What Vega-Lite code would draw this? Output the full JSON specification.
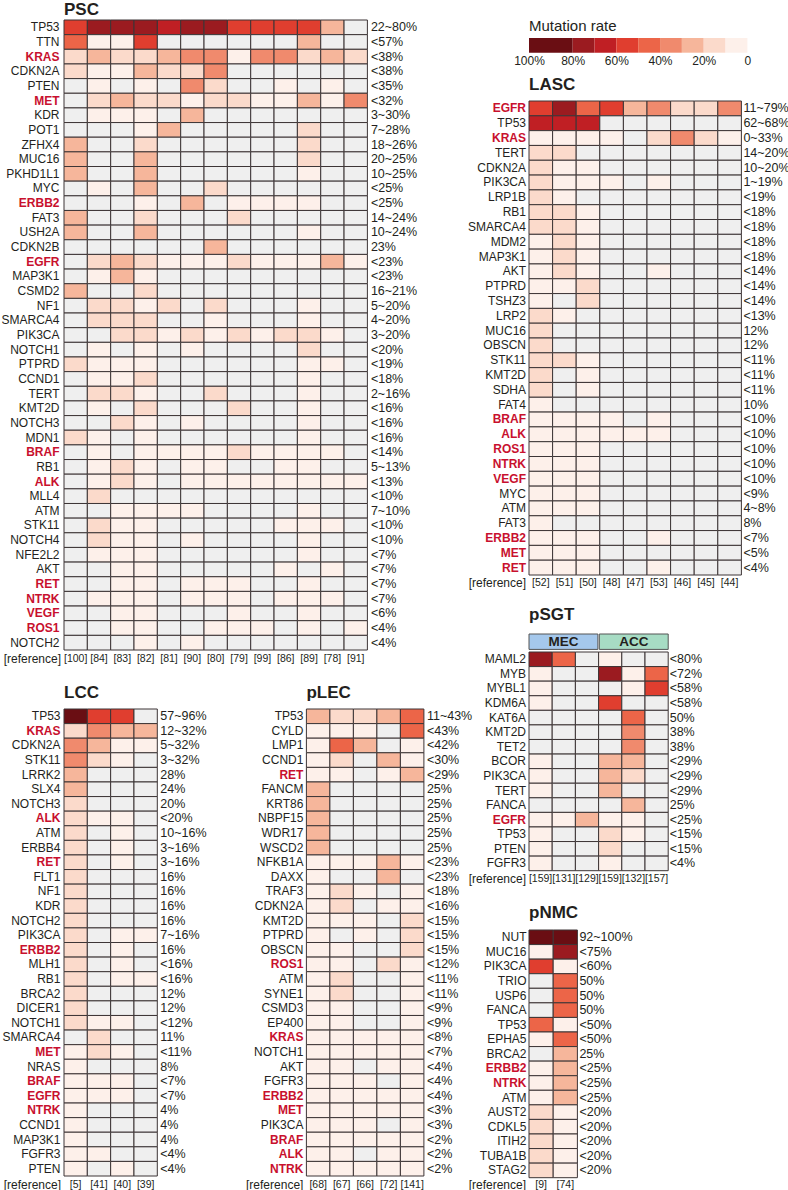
{
"$schema":"https://vega.github.io/schema/vega-lite/v6.json",
"padding":{"left":0,"top":0,"right":0,"bottom":0},
"background":"white",
"config":{"view":{"stroke":null},"font":"Liberation Sans","text":{"font":"Liberation Sans","color":"#231f20"},"title":{"font":"Liberation Sans","fontSize":17,"fontWeight":"bold","anchor":"start","color":"#231f20","frame":"group","baseline":"alphabetic"},"axis":{"labelFont":"Liberation Sans"}},
"datasets":{
"leg":[{"lo":80,"hi":100,"v":9},{"lo":70,"hi":80,"v":8},{"lo":60,"hi":70,"v":7},{"lo":50,"hi":60,"v":6},{"lo":40,"hi":50,"v":5},{"lo":30,"hi":40,"v":4},{"lo":20,"hi":30,"v":3},{"lo":10,"hi":20,"v":2},{"lo":0,"hi":10,"v":1}],
"psc_c":[{"c":1,"ref":"[100]"},{"c":2,"ref":"[84]"},{"c":3,"ref":"[83]"},{"c":4,"ref":"[82]"},{"c":5,"ref":"[81]"},{"c":6,"ref":"[90]"},{"c":7,"ref":"[80]"},{"c":8,"ref":"[79]"},{"c":9,"ref":"[99]"},{"c":10,"ref":"[86]"},{"c":11,"ref":"[89]"},{"c":12,"ref":"[78]"},{"c":13,"ref":"[91]"}],
"psc_g":[{"g":"TP53","r":"22~80%"},{"g":"TTN","r":"<57%"},{"g":"KRAS","r":"<38%"},{"g":"CDKN2A","r":"<38%"},{"g":"PTEN","r":"<35%"},{"g":"MET","r":"<32%"},{"g":"KDR","r":"3~30%"},{"g":"POT1","r":"7~28%"},{"g":"ZFHX4","r":"18~26%"},{"g":"MUC16","r":"20~25%"},{"g":"PKHD1L1","r":"10~25%"},{"g":"MYC","r":"<25%"},{"g":"ERBB2","r":"<25%"},{"g":"FAT3","r":"14~24%"},{"g":"USH2A","r":"10~24%"},{"g":"CDKN2B","r":"23%"},{"g":"EGFR","r":"<23%"},{"g":"MAP3K1","r":"<23%"},{"g":"CSMD2","r":"16~21%"},{"g":"NF1","r":"5~20%"},{"g":"SMARCA4","r":"4~20%"},{"g":"PIK3CA","r":"3~20%"},{"g":"NOTCH1","r":"<20%"},{"g":"PTPRD","r":"<19%"},{"g":"CCND1","r":"<18%"},{"g":"TERT","r":"2~16%"},{"g":"KMT2D","r":"<16%"},{"g":"NOTCH3","r":"<16%"},{"g":"MDN1","r":"<16%"},{"g":"BRAF","r":"<14%"},{"g":"RB1","r":"5~13%"},{"g":"ALK","r":"<13%"},{"g":"MLL4","r":"<10%"},{"g":"ATM","r":"7~10%"},{"g":"STK11","r":"<10%"},{"g":"NOTCH4","r":"<10%"},{"g":"NFE2L2","r":"<7%"},{"g":"AKT","r":"<7%"},{"g":"RET","r":"<7%"},{"g":"NTRK","r":"<7%"},{"g":"VEGF","r":"<6%"},{"g":"ROS1","r":"<4%"},{"g":"NOTCH2","r":"<4%"}],
"psc":[
{"g":"TP53","c":1,"v":6},{"g":"TP53","c":2,"v":8},{"g":"TP53","c":3,"v":8},{"g":"TP53","c":4,"v":8},{"g":"TP53","c":5,"v":7},{"g":"TP53","c":6,"v":8},{"g":"TP53","c":7,"v":8},{"g":"TP53","c":8,"v":6},{"g":"TP53","c":9,"v":6},{"g":"TP53","c":10,"v":6},{"g":"TP53","c":11,"v":6},{"g":"TP53","c":12,"v":3},{"g":"TP53","c":13,"v":0},
{"g":"TTN","c":1,"v":5},{"g":"TTN","c":2,"v":1},{"g":"TTN","c":3,"v":1},{"g":"TTN","c":4,"v":6},{"g":"TTN","c":5,"v":0},{"g":"TTN","c":6,"v":0},{"g":"TTN","c":7,"v":0},{"g":"TTN","c":8,"v":0},{"g":"TTN","c":9,"v":0},{"g":"TTN","c":10,"v":0},{"g":"TTN","c":11,"v":3},{"g":"TTN","c":12,"v":0},{"g":"TTN","c":13,"v":0},
{"g":"KRAS","c":1,"v":2},{"g":"KRAS","c":2,"v":3},{"g":"KRAS","c":3,"v":2},{"g":"KRAS","c":4,"v":2},{"g":"KRAS","c":5,"v":3},{"g":"KRAS","c":6,"v":4},{"g":"KRAS","c":7,"v":4},{"g":"KRAS","c":8,"v":1},{"g":"KRAS","c":9,"v":4},{"g":"KRAS","c":10,"v":4},{"g":"KRAS","c":11,"v":2},{"g":"KRAS","c":12,"v":3},{"g":"KRAS","c":13,"v":2},
{"g":"CDKN2A","c":1,"v":2},{"g":"CDKN2A","c":2,"v":1},{"g":"CDKN2A","c":3,"v":1},{"g":"CDKN2A","c":4,"v":3},{"g":"CDKN2A","c":5,"v":2},{"g":"CDKN2A","c":6,"v":2},{"g":"CDKN2A","c":7,"v":4},{"g":"CDKN2A","c":8,"v":0},{"g":"CDKN2A","c":9,"v":0},{"g":"CDKN2A","c":10,"v":0},{"g":"CDKN2A","c":11,"v":0},{"g":"CDKN2A","c":12,"v":0},{"g":"CDKN2A","c":13,"v":0},
{"g":"PTEN","c":1,"v":0},{"g":"PTEN","c":2,"v":1},{"g":"PTEN","c":3,"v":0},{"g":"PTEN","c":4,"v":1},{"g":"PTEN","c":5,"v":0},{"g":"PTEN","c":6,"v":4},{"g":"PTEN","c":7,"v":2},{"g":"PTEN","c":8,"v":0},{"g":"PTEN","c":9,"v":0},{"g":"PTEN","c":10,"v":1},{"g":"PTEN","c":11,"v":0},{"g":"PTEN","c":12,"v":1},{"g":"PTEN","c":13,"v":0},
{"g":"MET","c":1,"v":0},{"g":"MET","c":2,"v":2},{"g":"MET","c":3,"v":3},{"g":"MET","c":4,"v":2},{"g":"MET","c":5,"v":2},{"g":"MET","c":6,"v":1},{"g":"MET","c":7,"v":2},{"g":"MET","c":8,"v":2},{"g":"MET","c":9,"v":1},{"g":"MET","c":10,"v":1},{"g":"MET","c":11,"v":3},{"g":"MET","c":12,"v":1},{"g":"MET","c":13,"v":4},
{"g":"KDR","c":1,"v":0},{"g":"KDR","c":2,"v":1},{"g":"KDR","c":3,"v":1},{"g":"KDR","c":4,"v":1},{"g":"KDR","c":5,"v":0},{"g":"KDR","c":6,"v":3},{"g":"KDR","c":7,"v":0},{"g":"KDR","c":8,"v":0},{"g":"KDR","c":9,"v":0},{"g":"KDR","c":10,"v":0},{"g":"KDR","c":11,"v":0},{"g":"KDR","c":12,"v":0},{"g":"KDR","c":13,"v":0},
{"g":"POT1","c":1,"v":0},{"g":"POT1","c":2,"v":0},{"g":"POT1","c":3,"v":0},{"g":"POT1","c":4,"v":1},{"g":"POT1","c":5,"v":3},{"g":"POT1","c":6,"v":0},{"g":"POT1","c":7,"v":0},{"g":"POT1","c":8,"v":0},{"g":"POT1","c":9,"v":0},{"g":"POT1","c":10,"v":0},{"g":"POT1","c":11,"v":2},{"g":"POT1","c":12,"v":0},{"g":"POT1","c":13,"v":0},
{"g":"ZFHX4","c":1,"v":3},{"g":"ZFHX4","c":2,"v":0},{"g":"ZFHX4","c":3,"v":0},{"g":"ZFHX4","c":4,"v":2},{"g":"ZFHX4","c":5,"v":0},{"g":"ZFHX4","c":6,"v":0},{"g":"ZFHX4","c":7,"v":0},{"g":"ZFHX4","c":8,"v":0},{"g":"ZFHX4","c":9,"v":0},{"g":"ZFHX4","c":10,"v":0},{"g":"ZFHX4","c":11,"v":2},{"g":"ZFHX4","c":12,"v":0},{"g":"ZFHX4","c":13,"v":0},
{"g":"MUC16","c":1,"v":3},{"g":"MUC16","c":2,"v":0},{"g":"MUC16","c":3,"v":0},{"g":"MUC16","c":4,"v":3},{"g":"MUC16","c":5,"v":0},{"g":"MUC16","c":6,"v":0},{"g":"MUC16","c":7,"v":0},{"g":"MUC16","c":8,"v":0},{"g":"MUC16","c":9,"v":0},{"g":"MUC16","c":10,"v":0},{"g":"MUC16","c":11,"v":2},{"g":"MUC16","c":12,"v":0},{"g":"MUC16","c":13,"v":0},
{"g":"PKHD1L1","c":1,"v":3},{"g":"PKHD1L1","c":2,"v":0},{"g":"PKHD1L1","c":3,"v":0},{"g":"PKHD1L1","c":4,"v":3},{"g":"PKHD1L1","c":5,"v":0},{"g":"PKHD1L1","c":6,"v":0},{"g":"PKHD1L1","c":7,"v":0},{"g":"PKHD1L1","c":8,"v":0},{"g":"PKHD1L1","c":9,"v":0},{"g":"PKHD1L1","c":10,"v":0},{"g":"PKHD1L1","c":11,"v":1},{"g":"PKHD1L1","c":12,"v":0},{"g":"PKHD1L1","c":13,"v":0},
{"g":"MYC","c":1,"v":0},{"g":"MYC","c":2,"v":1},{"g":"MYC","c":3,"v":0},{"g":"MYC","c":4,"v":3},{"g":"MYC","c":5,"v":0},{"g":"MYC","c":6,"v":0},{"g":"MYC","c":7,"v":2},{"g":"MYC","c":8,"v":0},{"g":"MYC","c":9,"v":0},{"g":"MYC","c":10,"v":0},{"g":"MYC","c":11,"v":0},{"g":"MYC","c":12,"v":0},{"g":"MYC","c":13,"v":0},
{"g":"ERBB2","c":1,"v":0},{"g":"ERBB2","c":2,"v":0},{"g":"ERBB2","c":3,"v":0},{"g":"ERBB2","c":4,"v":1},{"g":"ERBB2","c":5,"v":0},{"g":"ERBB2","c":6,"v":3},{"g":"ERBB2","c":7,"v":0},{"g":"ERBB2","c":8,"v":1},{"g":"ERBB2","c":9,"v":1},{"g":"ERBB2","c":10,"v":1},{"g":"ERBB2","c":11,"v":1},{"g":"ERBB2","c":12,"v":0},{"g":"ERBB2","c":13,"v":0},
{"g":"FAT3","c":1,"v":3},{"g":"FAT3","c":2,"v":0},{"g":"FAT3","c":3,"v":0},{"g":"FAT3","c":4,"v":2},{"g":"FAT3","c":5,"v":0},{"g":"FAT3","c":6,"v":0},{"g":"FAT3","c":7,"v":0},{"g":"FAT3","c":8,"v":2},{"g":"FAT3","c":9,"v":0},{"g":"FAT3","c":10,"v":0},{"g":"FAT3","c":11,"v":0},{"g":"FAT3","c":12,"v":0},{"g":"FAT3","c":13,"v":0},
{"g":"USH2A","c":1,"v":3},{"g":"USH2A","c":2,"v":0},{"g":"USH2A","c":3,"v":0},{"g":"USH2A","c":4,"v":3},{"g":"USH2A","c":5,"v":0},{"g":"USH2A","c":6,"v":0},{"g":"USH2A","c":7,"v":0},{"g":"USH2A","c":8,"v":0},{"g":"USH2A","c":9,"v":0},{"g":"USH2A","c":10,"v":0},{"g":"USH2A","c":11,"v":1},{"g":"USH2A","c":12,"v":0},{"g":"USH2A","c":13,"v":0},
{"g":"CDKN2B","c":1,"v":0},{"g":"CDKN2B","c":2,"v":0},{"g":"CDKN2B","c":3,"v":0},{"g":"CDKN2B","c":4,"v":0},{"g":"CDKN2B","c":5,"v":0},{"g":"CDKN2B","c":6,"v":0},{"g":"CDKN2B","c":7,"v":3},{"g":"CDKN2B","c":8,"v":0},{"g":"CDKN2B","c":9,"v":0},{"g":"CDKN2B","c":10,"v":0},{"g":"CDKN2B","c":11,"v":0},{"g":"CDKN2B","c":12,"v":0},{"g":"CDKN2B","c":13,"v":0},
{"g":"EGFR","c":1,"v":0},{"g":"EGFR","c":2,"v":2},{"g":"EGFR","c":3,"v":3},{"g":"EGFR","c":4,"v":2},{"g":"EGFR","c":5,"v":1},{"g":"EGFR","c":6,"v":1},{"g":"EGFR","c":7,"v":1},{"g":"EGFR","c":8,"v":2},{"g":"EGFR","c":9,"v":1},{"g":"EGFR","c":10,"v":1},{"g":"EGFR","c":11,"v":1},{"g":"EGFR","c":12,"v":3},{"g":"EGFR","c":13,"v":1},
{"g":"MAP3K1","c":1,"v":0},{"g":"MAP3K1","c":2,"v":1},{"g":"MAP3K1","c":3,"v":3},{"g":"MAP3K1","c":4,"v":1},{"g":"MAP3K1","c":5,"v":0},{"g":"MAP3K1","c":6,"v":0},{"g":"MAP3K1","c":7,"v":0},{"g":"MAP3K1","c":8,"v":0},{"g":"MAP3K1","c":9,"v":0},{"g":"MAP3K1","c":10,"v":0},{"g":"MAP3K1","c":11,"v":0},{"g":"MAP3K1","c":12,"v":0},{"g":"MAP3K1","c":13,"v":0},
{"g":"CSMD2","c":1,"v":3},{"g":"CSMD2","c":2,"v":0},{"g":"CSMD2","c":3,"v":0},{"g":"CSMD2","c":4,"v":2},{"g":"CSMD2","c":5,"v":0},{"g":"CSMD2","c":6,"v":0},{"g":"CSMD2","c":7,"v":0},{"g":"CSMD2","c":8,"v":0},{"g":"CSMD2","c":9,"v":0},{"g":"CSMD2","c":10,"v":0},{"g":"CSMD2","c":11,"v":0},{"g":"CSMD2","c":12,"v":0},{"g":"CSMD2","c":13,"v":0},
{"g":"NF1","c":1,"v":0},{"g":"NF1","c":2,"v":2},{"g":"NF1","c":3,"v":2},{"g":"NF1","c":4,"v":1},{"g":"NF1","c":5,"v":2},{"g":"NF1","c":6,"v":0},{"g":"NF1","c":7,"v":2},{"g":"NF1","c":8,"v":0},{"g":"NF1","c":9,"v":0},{"g":"NF1","c":10,"v":0},{"g":"NF1","c":11,"v":1},{"g":"NF1","c":12,"v":0},{"g":"NF1","c":13,"v":0},
{"g":"SMARCA4","c":1,"v":0},{"g":"SMARCA4","c":2,"v":2},{"g":"SMARCA4","c":3,"v":2},{"g":"SMARCA4","c":4,"v":2},{"g":"SMARCA4","c":5,"v":0},{"g":"SMARCA4","c":6,"v":0},{"g":"SMARCA4","c":7,"v":1},{"g":"SMARCA4","c":8,"v":0},{"g":"SMARCA4","c":9,"v":0},{"g":"SMARCA4","c":10,"v":0},{"g":"SMARCA4","c":11,"v":1},{"g":"SMARCA4","c":12,"v":0},{"g":"SMARCA4","c":13,"v":0},
{"g":"PIK3CA","c":1,"v":0},{"g":"PIK3CA","c":2,"v":0},{"g":"PIK3CA","c":3,"v":2},{"g":"PIK3CA","c":4,"v":2},{"g":"PIK3CA","c":5,"v":1},{"g":"PIK3CA","c":6,"v":2},{"g":"PIK3CA","c":7,"v":1},{"g":"PIK3CA","c":8,"v":2},{"g":"PIK3CA","c":9,"v":1},{"g":"PIK3CA","c":10,"v":2},{"g":"PIK3CA","c":11,"v":2},{"g":"PIK3CA","c":12,"v":1},{"g":"PIK3CA","c":13,"v":0},
{"g":"NOTCH1","c":1,"v":0},{"g":"NOTCH1","c":2,"v":1},{"g":"NOTCH1","c":3,"v":0},{"g":"NOTCH1","c":4,"v":1},{"g":"NOTCH1","c":5,"v":0},{"g":"NOTCH1","c":6,"v":1},{"g":"NOTCH1","c":7,"v":0},{"g":"NOTCH1","c":8,"v":0},{"g":"NOTCH1","c":9,"v":0},{"g":"NOTCH1","c":10,"v":0},{"g":"NOTCH1","c":11,"v":2},{"g":"NOTCH1","c":12,"v":0},{"g":"NOTCH1","c":13,"v":0},
{"g":"PTPRD","c":1,"v":2},{"g":"PTPRD","c":2,"v":1},{"g":"PTPRD","c":3,"v":1},{"g":"PTPRD","c":4,"v":1},{"g":"PTPRD","c":5,"v":0},{"g":"PTPRD","c":6,"v":0},{"g":"PTPRD","c":7,"v":0},{"g":"PTPRD","c":8,"v":0},{"g":"PTPRD","c":9,"v":0},{"g":"PTPRD","c":10,"v":0},{"g":"PTPRD","c":11,"v":1},{"g":"PTPRD","c":12,"v":1},{"g":"PTPRD","c":13,"v":0},
{"g":"CCND1","c":1,"v":0},{"g":"CCND1","c":2,"v":1},{"g":"CCND1","c":3,"v":1},{"g":"CCND1","c":4,"v":2},{"g":"CCND1","c":5,"v":0},{"g":"CCND1","c":6,"v":0},{"g":"CCND1","c":7,"v":0},{"g":"CCND1","c":8,"v":0},{"g":"CCND1","c":9,"v":0},{"g":"CCND1","c":10,"v":0},{"g":"CCND1","c":11,"v":1},{"g":"CCND1","c":12,"v":0},{"g":"CCND1","c":13,"v":0},
{"g":"TERT","c":1,"v":0},{"g":"TERT","c":2,"v":2},{"g":"TERT","c":3,"v":2},{"g":"TERT","c":4,"v":1},{"g":"TERT","c":5,"v":0},{"g":"TERT","c":6,"v":0},{"g":"TERT","c":7,"v":2},{"g":"TERT","c":8,"v":0},{"g":"TERT","c":9,"v":0},{"g":"TERT","c":10,"v":0},{"g":"TERT","c":11,"v":1},{"g":"TERT","c":12,"v":0},{"g":"TERT","c":13,"v":0},
{"g":"KMT2D","c":1,"v":0},{"g":"KMT2D","c":2,"v":1},{"g":"KMT2D","c":3,"v":0},{"g":"KMT2D","c":4,"v":2},{"g":"KMT2D","c":5,"v":0},{"g":"KMT2D","c":6,"v":0},{"g":"KMT2D","c":7,"v":0},{"g":"KMT2D","c":8,"v":2},{"g":"KMT2D","c":9,"v":0},{"g":"KMT2D","c":10,"v":0},{"g":"KMT2D","c":11,"v":1},{"g":"KMT2D","c":12,"v":0},{"g":"KMT2D","c":13,"v":0},
{"g":"NOTCH3","c":1,"v":0},{"g":"NOTCH3","c":2,"v":0},{"g":"NOTCH3","c":3,"v":2},{"g":"NOTCH3","c":4,"v":1},{"g":"NOTCH3","c":5,"v":0},{"g":"NOTCH3","c":6,"v":1},{"g":"NOTCH3","c":7,"v":0},{"g":"NOTCH3","c":8,"v":0},{"g":"NOTCH3","c":9,"v":0},{"g":"NOTCH3","c":10,"v":0},{"g":"NOTCH3","c":11,"v":1},{"g":"NOTCH3","c":12,"v":0},{"g":"NOTCH3","c":13,"v":0},
{"g":"MDN1","c":1,"v":2},{"g":"MDN1","c":2,"v":1},{"g":"MDN1","c":3,"v":0},{"g":"MDN1","c":4,"v":1},{"g":"MDN1","c":5,"v":0},{"g":"MDN1","c":6,"v":0},{"g":"MDN1","c":7,"v":0},{"g":"MDN1","c":8,"v":0},{"g":"MDN1","c":9,"v":0},{"g":"MDN1","c":10,"v":0},{"g":"MDN1","c":11,"v":1},{"g":"MDN1","c":12,"v":0},{"g":"MDN1","c":13,"v":0},
{"g":"BRAF","c":1,"v":0},{"g":"BRAF","c":2,"v":1},{"g":"BRAF","c":3,"v":0},{"g":"BRAF","c":4,"v":1},{"g":"BRAF","c":5,"v":1},{"g":"BRAF","c":6,"v":1},{"g":"BRAF","c":7,"v":1},{"g":"BRAF","c":8,"v":2},{"g":"BRAF","c":9,"v":1},{"g":"BRAF","c":10,"v":1},{"g":"BRAF","c":11,"v":1},{"g":"BRAF","c":12,"v":1},{"g":"BRAF","c":13,"v":0},
{"g":"RB1","c":1,"v":0},{"g":"RB1","c":2,"v":1},{"g":"RB1","c":3,"v":2},{"g":"RB1","c":4,"v":1},{"g":"RB1","c":5,"v":0},{"g":"RB1","c":6,"v":1},{"g":"RB1","c":7,"v":1},{"g":"RB1","c":8,"v":0},{"g":"RB1","c":9,"v":0},{"g":"RB1","c":10,"v":1},{"g":"RB1","c":11,"v":1},{"g":"RB1","c":12,"v":0},{"g":"RB1","c":13,"v":0},
{"g":"ALK","c":1,"v":0},{"g":"ALK","c":2,"v":1},{"g":"ALK","c":3,"v":2},{"g":"ALK","c":4,"v":1},{"g":"ALK","c":5,"v":0},{"g":"ALK","c":6,"v":1},{"g":"ALK","c":7,"v":1},{"g":"ALK","c":8,"v":1},{"g":"ALK","c":9,"v":1},{"g":"ALK","c":10,"v":1},{"g":"ALK","c":11,"v":1},{"g":"ALK","c":12,"v":1},{"g":"ALK","c":13,"v":1},
{"g":"MLL4","c":1,"v":0},{"g":"MLL4","c":2,"v":2},{"g":"MLL4","c":3,"v":0},{"g":"MLL4","c":4,"v":0},{"g":"MLL4","c":5,"v":0},{"g":"MLL4","c":6,"v":0},{"g":"MLL4","c":7,"v":0},{"g":"MLL4","c":8,"v":0},{"g":"MLL4","c":9,"v":0},{"g":"MLL4","c":10,"v":0},{"g":"MLL4","c":11,"v":0},{"g":"MLL4","c":12,"v":0},{"g":"MLL4","c":13,"v":0},
{"g":"ATM","c":1,"v":0},{"g":"ATM","c":2,"v":0},{"g":"ATM","c":3,"v":1},{"g":"ATM","c":4,"v":1},{"g":"ATM","c":5,"v":1},{"g":"ATM","c":6,"v":1},{"g":"ATM","c":7,"v":0},{"g":"ATM","c":8,"v":0},{"g":"ATM","c":9,"v":0},{"g":"ATM","c":10,"v":0},{"g":"ATM","c":11,"v":1},{"g":"ATM","c":12,"v":0},{"g":"ATM","c":13,"v":0},
{"g":"STK11","c":1,"v":0},{"g":"STK11","c":2,"v":2},{"g":"STK11","c":3,"v":1},{"g":"STK11","c":4,"v":1},{"g":"STK11","c":5,"v":0},{"g":"STK11","c":6,"v":0},{"g":"STK11","c":7,"v":0},{"g":"STK11","c":8,"v":0},{"g":"STK11","c":9,"v":0},{"g":"STK11","c":10,"v":1},{"g":"STK11","c":11,"v":1},{"g":"STK11","c":12,"v":1},{"g":"STK11","c":13,"v":0},
{"g":"NOTCH4","c":1,"v":0},{"g":"NOTCH4","c":2,"v":2},{"g":"NOTCH4","c":3,"v":1},{"g":"NOTCH4","c":4,"v":1},{"g":"NOTCH4","c":5,"v":0},{"g":"NOTCH4","c":6,"v":1},{"g":"NOTCH4","c":7,"v":0},{"g":"NOTCH4","c":8,"v":0},{"g":"NOTCH4","c":9,"v":0},{"g":"NOTCH4","c":10,"v":0},{"g":"NOTCH4","c":11,"v":1},{"g":"NOTCH4","c":12,"v":0},{"g":"NOTCH4","c":13,"v":0},
{"g":"NFE2L2","c":1,"v":0},{"g":"NFE2L2","c":2,"v":1},{"g":"NFE2L2","c":3,"v":1},{"g":"NFE2L2","c":4,"v":1},{"g":"NFE2L2","c":5,"v":0},{"g":"NFE2L2","c":6,"v":0},{"g":"NFE2L2","c":7,"v":0},{"g":"NFE2L2","c":8,"v":0},{"g":"NFE2L2","c":9,"v":0},{"g":"NFE2L2","c":10,"v":0},{"g":"NFE2L2","c":11,"v":1},{"g":"NFE2L2","c":12,"v":0},{"g":"NFE2L2","c":13,"v":0},
{"g":"AKT","c":1,"v":0},{"g":"AKT","c":2,"v":0},{"g":"AKT","c":3,"v":1},{"g":"AKT","c":4,"v":1},{"g":"AKT","c":5,"v":0},{"g":"AKT","c":6,"v":0},{"g":"AKT","c":7,"v":0},{"g":"AKT","c":8,"v":0},{"g":"AKT","c":9,"v":0},{"g":"AKT","c":10,"v":1},{"g":"AKT","c":11,"v":0},{"g":"AKT","c":12,"v":1},{"g":"AKT","c":13,"v":0},
{"g":"RET","c":1,"v":0},{"g":"RET","c":2,"v":0},{"g":"RET","c":3,"v":1},{"g":"RET","c":4,"v":1},{"g":"RET","c":5,"v":0},{"g":"RET","c":6,"v":1},{"g":"RET","c":7,"v":1},{"g":"RET","c":8,"v":1},{"g":"RET","c":9,"v":0},{"g":"RET","c":10,"v":0},{"g":"RET","c":11,"v":1},{"g":"RET","c":12,"v":0},{"g":"RET","c":13,"v":0},
{"g":"NTRK","c":1,"v":0},{"g":"NTRK","c":2,"v":1},{"g":"NTRK","c":3,"v":1},{"g":"NTRK","c":4,"v":1},{"g":"NTRK","c":5,"v":0},{"g":"NTRK","c":6,"v":1},{"g":"NTRK","c":7,"v":1},{"g":"NTRK","c":8,"v":1},{"g":"NTRK","c":9,"v":0},{"g":"NTRK","c":10,"v":1},{"g":"NTRK","c":11,"v":1},{"g":"NTRK","c":12,"v":1},{"g":"NTRK","c":13,"v":0},
{"g":"VEGF","c":1,"v":0},{"g":"VEGF","c":2,"v":0},{"g":"VEGF","c":3,"v":1},{"g":"VEGF","c":4,"v":1},{"g":"VEGF","c":5,"v":0},{"g":"VEGF","c":6,"v":0},{"g":"VEGF","c":7,"v":0},{"g":"VEGF","c":8,"v":1},{"g":"VEGF","c":9,"v":0},{"g":"VEGF","c":10,"v":0},{"g":"VEGF","c":11,"v":1},{"g":"VEGF","c":12,"v":0},{"g":"VEGF","c":13,"v":0},
{"g":"ROS1","c":1,"v":0},{"g":"ROS1","c":2,"v":0},{"g":"ROS1","c":3,"v":1},{"g":"ROS1","c":4,"v":1},{"g":"ROS1","c":5,"v":0},{"g":"ROS1","c":6,"v":0},{"g":"ROS1","c":7,"v":1},{"g":"ROS1","c":8,"v":1},{"g":"ROS1","c":9,"v":1},{"g":"ROS1","c":10,"v":0},{"g":"ROS1","c":11,"v":1},{"g":"ROS1","c":12,"v":0},{"g":"ROS1","c":13,"v":1},
{"g":"NOTCH2","c":1,"v":0},{"g":"NOTCH2","c":2,"v":0},{"g":"NOTCH2","c":3,"v":0},{"g":"NOTCH2","c":4,"v":1},{"g":"NOTCH2","c":5,"v":0},{"g":"NOTCH2","c":6,"v":1},{"g":"NOTCH2","c":7,"v":0},{"g":"NOTCH2","c":8,"v":0},{"g":"NOTCH2","c":9,"v":0},{"g":"NOTCH2","c":10,"v":0},{"g":"NOTCH2","c":11,"v":0},{"g":"NOTCH2","c":12,"v":0},{"g":"NOTCH2","c":13,"v":0}
],
"lasc_c":[{"c":1,"ref":"[52]"},{"c":2,"ref":"[51]"},{"c":3,"ref":"[50]"},{"c":4,"ref":"[48]"},{"c":5,"ref":"[47]"},{"c":6,"ref":"[53]"},{"c":7,"ref":"[46]"},{"c":8,"ref":"[45]"},{"c":9,"ref":"[44]"}],
"lasc_g":[{"g":"EGFR","r":"11~79%"},{"g":"TP53","r":"62~68%"},{"g":"KRAS","r":"0~33%"},{"g":"TERT","r":"14~20%"},{"g":"CDKN2A","r":"10~20%"},{"g":"PIK3CA","r":"1~19%"},{"g":"LRP1B","r":"<19%"},{"g":"RB1","r":"<18%"},{"g":"SMARCA4","r":"<18%"},{"g":"MDM2","r":"<18%"},{"g":"MAP3K1","r":"<18%"},{"g":"AKT","r":"<14%"},{"g":"PTPRD","r":"<14%"},{"g":"TSHZ3","r":"<14%"},{"g":"LRP2","r":"<13%"},{"g":"MUC16","r":"12%"},{"g":"OBSCN","r":"12%"},{"g":"STK11","r":"<11%"},{"g":"KMT2D","r":"<11%"},{"g":"SDHA","r":"<11%"},{"g":"FAT4","r":"10%"},{"g":"BRAF","r":"<10%"},{"g":"ALK","r":"<10%"},{"g":"ROS1","r":"<10%"},{"g":"NTRK","r":"<10%"},{"g":"VEGF","r":"<10%"},{"g":"MYC","r":"<9%"},{"g":"ATM","r":"4~8%"},{"g":"FAT3","r":"8%"},{"g":"ERBB2","r":"<7%"},{"g":"MET","r":"<5%"},{"g":"RET","r":"<4%"}],
"lasc":[
{"g":"EGFR","c":1,"v":6},{"g":"EGFR","c":2,"v":8},{"g":"EGFR","c":3,"v":5},{"g":"EGFR","c":4,"v":6},{"g":"EGFR","c":5,"v":3},{"g":"EGFR","c":6,"v":4},{"g":"EGFR","c":7,"v":2},{"g":"EGFR","c":8,"v":2},{"g":"EGFR","c":9,"v":4},
{"g":"TP53","c":1,"v":7},{"g":"TP53","c":2,"v":7},{"g":"TP53","c":3,"v":7},{"g":"TP53","c":4,"v":0},{"g":"TP53","c":5,"v":0},{"g":"TP53","c":6,"v":0},{"g":"TP53","c":7,"v":0},{"g":"TP53","c":8,"v":0},{"g":"TP53","c":9,"v":0},
{"g":"KRAS","c":1,"v":1},{"g":"KRAS","c":2,"v":1},{"g":"KRAS","c":3,"v":1},{"g":"KRAS","c":4,"v":1},{"g":"KRAS","c":5,"v":0},{"g":"KRAS","c":6,"v":2},{"g":"KRAS","c":7,"v":4},{"g":"KRAS","c":8,"v":2},{"g":"KRAS","c":9,"v":1},
{"g":"TERT","c":1,"v":2},{"g":"TERT","c":2,"v":2},{"g":"TERT","c":3,"v":0},{"g":"TERT","c":4,"v":0},{"g":"TERT","c":5,"v":0},{"g":"TERT","c":6,"v":0},{"g":"TERT","c":7,"v":0},{"g":"TERT","c":8,"v":0},{"g":"TERT","c":9,"v":0},
{"g":"CDKN2A","c":1,"v":2},{"g":"CDKN2A","c":2,"v":1},{"g":"CDKN2A","c":3,"v":1},{"g":"CDKN2A","c":4,"v":0},{"g":"CDKN2A","c":5,"v":0},{"g":"CDKN2A","c":6,"v":0},{"g":"CDKN2A","c":7,"v":0},{"g":"CDKN2A","c":8,"v":0},{"g":"CDKN2A","c":9,"v":0},
{"g":"PIK3CA","c":1,"v":2},{"g":"PIK3CA","c":2,"v":1},{"g":"PIK3CA","c":3,"v":1},{"g":"PIK3CA","c":4,"v":1},{"g":"PIK3CA","c":5,"v":0},{"g":"PIK3CA","c":6,"v":1},{"g":"PIK3CA","c":7,"v":0},{"g":"PIK3CA","c":8,"v":0},{"g":"PIK3CA","c":9,"v":0},
{"g":"LRP1B","c":1,"v":2},{"g":"LRP1B","c":2,"v":1},{"g":"LRP1B","c":3,"v":0},{"g":"LRP1B","c":4,"v":0},{"g":"LRP1B","c":5,"v":0},{"g":"LRP1B","c":6,"v":0},{"g":"LRP1B","c":7,"v":0},{"g":"LRP1B","c":8,"v":0},{"g":"LRP1B","c":9,"v":0},
{"g":"RB1","c":1,"v":2},{"g":"RB1","c":2,"v":2},{"g":"RB1","c":3,"v":1},{"g":"RB1","c":4,"v":0},{"g":"RB1","c":5,"v":0},{"g":"RB1","c":6,"v":0},{"g":"RB1","c":7,"v":0},{"g":"RB1","c":8,"v":0},{"g":"RB1","c":9,"v":0},
{"g":"SMARCA4","c":1,"v":2},{"g":"SMARCA4","c":2,"v":2},{"g":"SMARCA4","c":3,"v":1},{"g":"SMARCA4","c":4,"v":0},{"g":"SMARCA4","c":5,"v":0},{"g":"SMARCA4","c":6,"v":0},{"g":"SMARCA4","c":7,"v":0},{"g":"SMARCA4","c":8,"v":0},{"g":"SMARCA4","c":9,"v":0},
{"g":"MDM2","c":1,"v":1},{"g":"MDM2","c":2,"v":2},{"g":"MDM2","c":3,"v":1},{"g":"MDM2","c":4,"v":0},{"g":"MDM2","c":5,"v":0},{"g":"MDM2","c":6,"v":0},{"g":"MDM2","c":7,"v":0},{"g":"MDM2","c":8,"v":0},{"g":"MDM2","c":9,"v":0},
{"g":"MAP3K1","c":1,"v":1},{"g":"MAP3K1","c":2,"v":2},{"g":"MAP3K1","c":3,"v":1},{"g":"MAP3K1","c":4,"v":0},{"g":"MAP3K1","c":5,"v":0},{"g":"MAP3K1","c":6,"v":0},{"g":"MAP3K1","c":7,"v":0},{"g":"MAP3K1","c":8,"v":0},{"g":"MAP3K1","c":9,"v":0},
{"g":"AKT","c":1,"v":1},{"g":"AKT","c":2,"v":2},{"g":"AKT","c":3,"v":1},{"g":"AKT","c":4,"v":0},{"g":"AKT","c":5,"v":0},{"g":"AKT","c":6,"v":1},{"g":"AKT","c":7,"v":0},{"g":"AKT","c":8,"v":0},{"g":"AKT","c":9,"v":0},
{"g":"PTPRD","c":1,"v":1},{"g":"PTPRD","c":2,"v":1},{"g":"PTPRD","c":3,"v":2},{"g":"PTPRD","c":4,"v":0},{"g":"PTPRD","c":5,"v":0},{"g":"PTPRD","c":6,"v":0},{"g":"PTPRD","c":7,"v":0},{"g":"PTPRD","c":8,"v":0},{"g":"PTPRD","c":9,"v":0},
{"g":"TSHZ3","c":1,"v":1},{"g":"TSHZ3","c":2,"v":0},{"g":"TSHZ3","c":3,"v":2},{"g":"TSHZ3","c":4,"v":0},{"g":"TSHZ3","c":5,"v":0},{"g":"TSHZ3","c":6,"v":0},{"g":"TSHZ3","c":7,"v":0},{"g":"TSHZ3","c":8,"v":0},{"g":"TSHZ3","c":9,"v":0},
{"g":"LRP2","c":1,"v":2},{"g":"LRP2","c":2,"v":1},{"g":"LRP2","c":3,"v":0},{"g":"LRP2","c":4,"v":0},{"g":"LRP2","c":5,"v":0},{"g":"LRP2","c":6,"v":0},{"g":"LRP2","c":7,"v":0},{"g":"LRP2","c":8,"v":0},{"g":"LRP2","c":9,"v":0},
{"g":"MUC16","c":1,"v":2},{"g":"MUC16","c":2,"v":0},{"g":"MUC16","c":3,"v":0},{"g":"MUC16","c":4,"v":0},{"g":"MUC16","c":5,"v":0},{"g":"MUC16","c":6,"v":0},{"g":"MUC16","c":7,"v":0},{"g":"MUC16","c":8,"v":0},{"g":"MUC16","c":9,"v":0},
{"g":"OBSCN","c":1,"v":2},{"g":"OBSCN","c":2,"v":0},{"g":"OBSCN","c":3,"v":0},{"g":"OBSCN","c":4,"v":0},{"g":"OBSCN","c":5,"v":0},{"g":"OBSCN","c":6,"v":0},{"g":"OBSCN","c":7,"v":0},{"g":"OBSCN","c":8,"v":0},{"g":"OBSCN","c":9,"v":0},
{"g":"STK11","c":1,"v":2},{"g":"STK11","c":2,"v":2},{"g":"STK11","c":3,"v":1},{"g":"STK11","c":4,"v":0},{"g":"STK11","c":5,"v":0},{"g":"STK11","c":6,"v":0},{"g":"STK11","c":7,"v":0},{"g":"STK11","c":8,"v":0},{"g":"STK11","c":9,"v":0},
{"g":"KMT2D","c":1,"v":2},{"g":"KMT2D","c":2,"v":0},{"g":"KMT2D","c":3,"v":1},{"g":"KMT2D","c":4,"v":0},{"g":"KMT2D","c":5,"v":0},{"g":"KMT2D","c":6,"v":0},{"g":"KMT2D","c":7,"v":0},{"g":"KMT2D","c":8,"v":0},{"g":"KMT2D","c":9,"v":0},
{"g":"SDHA","c":1,"v":2},{"g":"SDHA","c":2,"v":0},{"g":"SDHA","c":3,"v":1},{"g":"SDHA","c":4,"v":0},{"g":"SDHA","c":5,"v":0},{"g":"SDHA","c":6,"v":0},{"g":"SDHA","c":7,"v":0},{"g":"SDHA","c":8,"v":0},{"g":"SDHA","c":9,"v":0},
{"g":"FAT4","c":1,"v":1},{"g":"FAT4","c":2,"v":0},{"g":"FAT4","c":3,"v":0},{"g":"FAT4","c":4,"v":0},{"g":"FAT4","c":5,"v":0},{"g":"FAT4","c":6,"v":0},{"g":"FAT4","c":7,"v":0},{"g":"FAT4","c":8,"v":0},{"g":"FAT4","c":9,"v":0},
{"g":"BRAF","c":1,"v":1},{"g":"BRAF","c":2,"v":1},{"g":"BRAF","c":3,"v":1},{"g":"BRAF","c":4,"v":1},{"g":"BRAF","c":5,"v":0},{"g":"BRAF","c":6,"v":1},{"g":"BRAF","c":7,"v":0},{"g":"BRAF","c":8,"v":0},{"g":"BRAF","c":9,"v":0},
{"g":"ALK","c":1,"v":1},{"g":"ALK","c":2,"v":1},{"g":"ALK","c":3,"v":1},{"g":"ALK","c":4,"v":1},{"g":"ALK","c":5,"v":1},{"g":"ALK","c":6,"v":1},{"g":"ALK","c":7,"v":0},{"g":"ALK","c":8,"v":0},{"g":"ALK","c":9,"v":0},
{"g":"ROS1","c":1,"v":1},{"g":"ROS1","c":2,"v":1},{"g":"ROS1","c":3,"v":1},{"g":"ROS1","c":4,"v":0},{"g":"ROS1","c":5,"v":0},{"g":"ROS1","c":6,"v":0},{"g":"ROS1","c":7,"v":0},{"g":"ROS1","c":8,"v":0},{"g":"ROS1","c":9,"v":0},
{"g":"NTRK","c":1,"v":1},{"g":"NTRK","c":2,"v":1},{"g":"NTRK","c":3,"v":1},{"g":"NTRK","c":4,"v":0},{"g":"NTRK","c":5,"v":0},{"g":"NTRK","c":6,"v":0},{"g":"NTRK","c":7,"v":0},{"g":"NTRK","c":8,"v":0},{"g":"NTRK","c":9,"v":0},
{"g":"VEGF","c":1,"v":1},{"g":"VEGF","c":2,"v":1},{"g":"VEGF","c":3,"v":1},{"g":"VEGF","c":4,"v":0},{"g":"VEGF","c":5,"v":0},{"g":"VEGF","c":6,"v":0},{"g":"VEGF","c":7,"v":0},{"g":"VEGF","c":8,"v":0},{"g":"VEGF","c":9,"v":0},
{"g":"MYC","c":1,"v":1},{"g":"MYC","c":2,"v":1},{"g":"MYC","c":3,"v":1},{"g":"MYC","c":4,"v":0},{"g":"MYC","c":5,"v":0},{"g":"MYC","c":6,"v":0},{"g":"MYC","c":7,"v":0},{"g":"MYC","c":8,"v":0},{"g":"MYC","c":9,"v":0},
{"g":"ATM","c":1,"v":1},{"g":"ATM","c":2,"v":1},{"g":"ATM","c":3,"v":1},{"g":"ATM","c":4,"v":0},{"g":"ATM","c":5,"v":0},{"g":"ATM","c":6,"v":0},{"g":"ATM","c":7,"v":0},{"g":"ATM","c":8,"v":0},{"g":"ATM","c":9,"v":0},
{"g":"FAT3","c":1,"v":1},{"g":"FAT3","c":2,"v":0},{"g":"FAT3","c":3,"v":0},{"g":"FAT3","c":4,"v":0},{"g":"FAT3","c":5,"v":0},{"g":"FAT3","c":6,"v":0},{"g":"FAT3","c":7,"v":0},{"g":"FAT3","c":8,"v":0},{"g":"FAT3","c":9,"v":0},
{"g":"ERBB2","c":1,"v":1},{"g":"ERBB2","c":2,"v":1},{"g":"ERBB2","c":3,"v":1},{"g":"ERBB2","c":4,"v":0},{"g":"ERBB2","c":5,"v":0},{"g":"ERBB2","c":6,"v":1},{"g":"ERBB2","c":7,"v":0},{"g":"ERBB2","c":8,"v":0},{"g":"ERBB2","c":9,"v":0},
{"g":"MET","c":1,"v":1},{"g":"MET","c":2,"v":1},{"g":"MET","c":3,"v":1},{"g":"MET","c":4,"v":0},{"g":"MET","c":5,"v":0},{"g":"MET","c":6,"v":0},{"g":"MET","c":7,"v":0},{"g":"MET","c":8,"v":0},{"g":"MET","c":9,"v":0},
{"g":"RET","c":1,"v":1},{"g":"RET","c":2,"v":1},{"g":"RET","c":3,"v":1},{"g":"RET","c":4,"v":0},{"g":"RET","c":5,"v":0},{"g":"RET","c":6,"v":1},{"g":"RET","c":7,"v":0},{"g":"RET","c":8,"v":0},{"g":"RET","c":9,"v":0}
],
"lcc_c":[{"c":1,"ref":"[5]"},{"c":2,"ref":"[41]"},{"c":3,"ref":"[40]"},{"c":4,"ref":"[39]"}],
"lcc_g":[{"g":"TP53","r":"57~96%"},{"g":"KRAS","r":"12~32%"},{"g":"CDKN2A","r":"5~32%"},{"g":"STK11","r":"3~32%"},{"g":"LRRK2","r":"28%"},{"g":"SLX4","r":"24%"},{"g":"NOTCH3","r":"20%"},{"g":"ALK","r":"<20%"},{"g":"ATM","r":"10~16%"},{"g":"ERBB4","r":"3~16%"},{"g":"RET","r":"3~16%"},{"g":"FLT1","r":"16%"},{"g":"NF1","r":"16%"},{"g":"KDR","r":"16%"},{"g":"NOTCH2","r":"16%"},{"g":"PIK3CA","r":"7~16%"},{"g":"ERBB2","r":"16%"},{"g":"MLH1","r":"<16%"},{"g":"RB1","r":"<16%"},{"g":"BRCA2","r":"12%"},{"g":"DICER1","r":"12%"},{"g":"NOTCH1","r":"<12%"},{"g":"SMARCA4","r":"11%"},{"g":"MET","r":"<11%"},{"g":"NRAS","r":"8%"},{"g":"BRAF","r":"<7%"},{"g":"EGFR","r":"<7%"},{"g":"NTRK","r":"4%"},{"g":"CCND1","r":"4%"},{"g":"MAP3K1","r":"4%"},{"g":"FGFR3","r":"<4%"},{"g":"PTEN","r":"<4%"}],
"lcc":[
{"g":"TP53","c":1,"v":9},{"g":"TP53","c":2,"v":6},{"g":"TP53","c":3,"v":6},{"g":"TP53","c":4,"v":0},
{"g":"KRAS","c":1,"v":2},{"g":"KRAS","c":2,"v":4},{"g":"KRAS","c":3,"v":3},{"g":"KRAS","c":4,"v":3},
{"g":"CDKN2A","c":1,"v":4},{"g":"CDKN2A","c":2,"v":3},{"g":"CDKN2A","c":3,"v":1},{"g":"CDKN2A","c":4,"v":1},
{"g":"STK11","c":1,"v":4},{"g":"STK11","c":2,"v":2},{"g":"STK11","c":3,"v":1},{"g":"STK11","c":4,"v":0},
{"g":"LRRK2","c":1,"v":3},{"g":"LRRK2","c":2,"v":0},{"g":"LRRK2","c":3,"v":0},{"g":"LRRK2","c":4,"v":0},
{"g":"SLX4","c":1,"v":3},{"g":"SLX4","c":2,"v":0},{"g":"SLX4","c":3,"v":0},{"g":"SLX4","c":4,"v":0},
{"g":"NOTCH3","c":1,"v":2},{"g":"NOTCH3","c":2,"v":0},{"g":"NOTCH3","c":3,"v":0},{"g":"NOTCH3","c":4,"v":0},
{"g":"ALK","c":1,"v":2},{"g":"ALK","c":2,"v":1},{"g":"ALK","c":3,"v":1},{"g":"ALK","c":4,"v":0},
{"g":"ATM","c":1,"v":2},{"g":"ATM","c":2,"v":0},{"g":"ATM","c":3,"v":1},{"g":"ATM","c":4,"v":0},
{"g":"ERBB4","c":1,"v":2},{"g":"ERBB4","c":2,"v":0},{"g":"ERBB4","c":3,"v":1},{"g":"ERBB4","c":4,"v":0},
{"g":"RET","c":1,"v":2},{"g":"RET","c":2,"v":0},{"g":"RET","c":3,"v":1},{"g":"RET","c":4,"v":0},
{"g":"FLT1","c":1,"v":2},{"g":"FLT1","c":2,"v":0},{"g":"FLT1","c":3,"v":0},{"g":"FLT1","c":4,"v":0},
{"g":"NF1","c":1,"v":2},{"g":"NF1","c":2,"v":0},{"g":"NF1","c":3,"v":0},{"g":"NF1","c":4,"v":0},
{"g":"KDR","c":1,"v":2},{"g":"KDR","c":2,"v":0},{"g":"KDR","c":3,"v":0},{"g":"KDR","c":4,"v":0},
{"g":"NOTCH2","c":1,"v":2},{"g":"NOTCH2","c":2,"v":0},{"g":"NOTCH2","c":3,"v":0},{"g":"NOTCH2","c":4,"v":0},
{"g":"PIK3CA","c":1,"v":2},{"g":"PIK3CA","c":2,"v":0},{"g":"PIK3CA","c":3,"v":1},{"g":"PIK3CA","c":4,"v":1},
{"g":"ERBB2","c":1,"v":2},{"g":"ERBB2","c":2,"v":0},{"g":"ERBB2","c":3,"v":1},{"g":"ERBB2","c":4,"v":0},
{"g":"MLH1","c":1,"v":2},{"g":"MLH1","c":2,"v":0},{"g":"MLH1","c":3,"v":1},{"g":"MLH1","c":4,"v":0},
{"g":"RB1","c":1,"v":2},{"g":"RB1","c":2,"v":0},{"g":"RB1","c":3,"v":1},{"g":"RB1","c":4,"v":1},
{"g":"BRCA2","c":1,"v":2},{"g":"BRCA2","c":2,"v":0},{"g":"BRCA2","c":3,"v":0},{"g":"BRCA2","c":4,"v":0},
{"g":"DICER1","c":1,"v":2},{"g":"DICER1","c":2,"v":0},{"g":"DICER1","c":3,"v":0},{"g":"DICER1","c":4,"v":0},
{"g":"NOTCH1","c":1,"v":2},{"g":"NOTCH1","c":2,"v":1},{"g":"NOTCH1","c":3,"v":1},{"g":"NOTCH1","c":4,"v":0},
{"g":"SMARCA4","c":1,"v":0},{"g":"SMARCA4","c":2,"v":2},{"g":"SMARCA4","c":3,"v":0},{"g":"SMARCA4","c":4,"v":0},
{"g":"MET","c":1,"v":1},{"g":"MET","c":2,"v":2},{"g":"MET","c":3,"v":1},{"g":"MET","c":4,"v":0},
{"g":"NRAS","c":1,"v":1},{"g":"NRAS","c":2,"v":0},{"g":"NRAS","c":3,"v":0},{"g":"NRAS","c":4,"v":0},
{"g":"BRAF","c":1,"v":1},{"g":"BRAF","c":2,"v":1},{"g":"BRAF","c":3,"v":1},{"g":"BRAF","c":4,"v":0},
{"g":"EGFR","c":1,"v":1},{"g":"EGFR","c":2,"v":1},{"g":"EGFR","c":3,"v":1},{"g":"EGFR","c":4,"v":0},
{"g":"NTRK","c":1,"v":1},{"g":"NTRK","c":2,"v":0},{"g":"NTRK","c":3,"v":0},{"g":"NTRK","c":4,"v":0},
{"g":"CCND1","c":1,"v":1},{"g":"CCND1","c":2,"v":0},{"g":"CCND1","c":3,"v":0},{"g":"CCND1","c":4,"v":0},
{"g":"MAP3K1","c":1,"v":1},{"g":"MAP3K1","c":2,"v":0},{"g":"MAP3K1","c":3,"v":0},{"g":"MAP3K1","c":4,"v":0},
{"g":"FGFR3","c":1,"v":1},{"g":"FGFR3","c":2,"v":1},{"g":"FGFR3","c":3,"v":0},{"g":"FGFR3","c":4,"v":0},
{"g":"PTEN","c":1,"v":1},{"g":"PTEN","c":2,"v":0},{"g":"PTEN","c":3,"v":1},{"g":"PTEN","c":4,"v":0}
],
"plec_c":[{"c":1,"ref":"[68]"},{"c":2,"ref":"[67]"},{"c":3,"ref":"[66]"},{"c":4,"ref":"[72]"},{"c":5,"ref":"[141]"}],
"plec_g":[{"g":"TP53","r":"11~43%"},{"g":"CYLD","r":"<43%"},{"g":"LMP1","r":"<42%"},{"g":"CCND1","r":"<30%"},{"g":"RET","r":"<29%"},{"g":"FANCM","r":"25%"},{"g":"KRT86","r":"25%"},{"g":"NBPF15","r":"25%"},{"g":"WDR17","r":"25%"},{"g":"WSCD2","r":"25%"},{"g":"NFKB1A","r":"<23%"},{"g":"DAXX","r":"<23%"},{"g":"TRAF3","r":"<18%"},{"g":"CDKN2A","r":"<16%"},{"g":"KMT2D","r":"<15%"},{"g":"PTPRD","r":"<15%"},{"g":"OBSCN","r":"<15%"},{"g":"ROS1","r":"<12%"},{"g":"ATM","r":"<11%"},{"g":"SYNE1","r":"<11%"},{"g":"CSMD3","r":"<9%"},{"g":"EP400","r":"<9%"},{"g":"KRAS","r":"<8%"},{"g":"NOTCH1","r":"<7%"},{"g":"AKT","r":"<4%"},{"g":"FGFR3","r":"<4%"},{"g":"ERBB2","r":"<4%"},{"g":"MET","r":"<3%"},{"g":"PIK3CA","r":"<3%"},{"g":"BRAF","r":"<2%"},{"g":"ALK","r":"<2%"},{"g":"NTRK","r":"<2%"}],
"plec":[
{"g":"TP53","c":1,"v":3},{"g":"TP53","c":2,"v":2},{"g":"TP53","c":3,"v":2},{"g":"TP53","c":4,"v":3},{"g":"TP53","c":5,"v":5},
{"g":"CYLD","c":1,"v":1},{"g":"CYLD","c":2,"v":1},{"g":"CYLD","c":3,"v":1},{"g":"CYLD","c":4,"v":0},{"g":"CYLD","c":5,"v":5},
{"g":"LMP1","c":1,"v":1},{"g":"LMP1","c":2,"v":5},{"g":"LMP1","c":3,"v":3},{"g":"LMP1","c":4,"v":0},{"g":"LMP1","c":5,"v":1},
{"g":"CCND1","c":1,"v":1},{"g":"CCND1","c":2,"v":2},{"g":"CCND1","c":3,"v":0},{"g":"CCND1","c":4,"v":3},{"g":"CCND1","c":5,"v":1},
{"g":"RET","c":1,"v":1},{"g":"RET","c":2,"v":1},{"g":"RET","c":3,"v":0},{"g":"RET","c":4,"v":1},{"g":"RET","c":5,"v":3},
{"g":"FANCM","c":1,"v":3},{"g":"FANCM","c":2,"v":0},{"g":"FANCM","c":3,"v":0},{"g":"FANCM","c":4,"v":0},{"g":"FANCM","c":5,"v":0},
{"g":"KRT86","c":1,"v":3},{"g":"KRT86","c":2,"v":0},{"g":"KRT86","c":3,"v":0},{"g":"KRT86","c":4,"v":0},{"g":"KRT86","c":5,"v":0},
{"g":"NBPF15","c":1,"v":3},{"g":"NBPF15","c":2,"v":0},{"g":"NBPF15","c":3,"v":0},{"g":"NBPF15","c":4,"v":0},{"g":"NBPF15","c":5,"v":0},
{"g":"WDR17","c":1,"v":3},{"g":"WDR17","c":2,"v":0},{"g":"WDR17","c":3,"v":0},{"g":"WDR17","c":4,"v":0},{"g":"WDR17","c":5,"v":0},
{"g":"WSCD2","c":1,"v":3},{"g":"WSCD2","c":2,"v":0},{"g":"WSCD2","c":3,"v":0},{"g":"WSCD2","c":4,"v":0},{"g":"WSCD2","c":5,"v":0},
{"g":"NFKB1A","c":1,"v":1},{"g":"NFKB1A","c":2,"v":1},{"g":"NFKB1A","c":3,"v":1},{"g":"NFKB1A","c":4,"v":3},{"g":"NFKB1A","c":5,"v":1},
{"g":"DAXX","c":1,"v":1},{"g":"DAXX","c":2,"v":0},{"g":"DAXX","c":3,"v":0},{"g":"DAXX","c":4,"v":3},{"g":"DAXX","c":5,"v":0},
{"g":"TRAF3","c":1,"v":1},{"g":"TRAF3","c":2,"v":2},{"g":"TRAF3","c":3,"v":1},{"g":"TRAF3","c":4,"v":0},{"g":"TRAF3","c":5,"v":1},
{"g":"CDKN2A","c":1,"v":1},{"g":"CDKN2A","c":2,"v":2},{"g":"CDKN2A","c":3,"v":0},{"g":"CDKN2A","c":4,"v":1},{"g":"CDKN2A","c":5,"v":1},
{"g":"KMT2D","c":1,"v":1},{"g":"KMT2D","c":2,"v":1},{"g":"KMT2D","c":3,"v":1},{"g":"KMT2D","c":4,"v":0},{"g":"KMT2D","c":5,"v":2},
{"g":"PTPRD","c":1,"v":1},{"g":"PTPRD","c":2,"v":0},{"g":"PTPRD","c":3,"v":1},{"g":"PTPRD","c":4,"v":0},{"g":"PTPRD","c":5,"v":2},
{"g":"OBSCN","c":1,"v":1},{"g":"OBSCN","c":2,"v":1},{"g":"OBSCN","c":3,"v":0},{"g":"OBSCN","c":4,"v":0},{"g":"OBSCN","c":5,"v":2},
{"g":"ROS1","c":1,"v":1},{"g":"ROS1","c":2,"v":1},{"g":"ROS1","c":3,"v":0},{"g":"ROS1","c":4,"v":2},{"g":"ROS1","c":5,"v":1},
{"g":"ATM","c":1,"v":1},{"g":"ATM","c":2,"v":2},{"g":"ATM","c":3,"v":0},{"g":"ATM","c":4,"v":0},{"g":"ATM","c":5,"v":1},
{"g":"SYNE1","c":1,"v":1},{"g":"SYNE1","c":2,"v":2},{"g":"SYNE1","c":3,"v":0},{"g":"SYNE1","c":4,"v":0},{"g":"SYNE1","c":5,"v":1},
{"g":"CSMD3","c":1,"v":1},{"g":"CSMD3","c":2,"v":1},{"g":"CSMD3","c":3,"v":0},{"g":"CSMD3","c":4,"v":0},{"g":"CSMD3","c":5,"v":1},
{"g":"EP400","c":1,"v":1},{"g":"EP400","c":2,"v":1},{"g":"EP400","c":3,"v":0},{"g":"EP400","c":4,"v":0},{"g":"EP400","c":5,"v":1},
{"g":"KRAS","c":1,"v":1},{"g":"KRAS","c":2,"v":1},{"g":"KRAS","c":3,"v":1},{"g":"KRAS","c":4,"v":1},{"g":"KRAS","c":5,"v":1},
{"g":"NOTCH1","c":1,"v":1},{"g":"NOTCH1","c":2,"v":1},{"g":"NOTCH1","c":3,"v":1},{"g":"NOTCH1","c":4,"v":1},{"g":"NOTCH1","c":5,"v":1},
{"g":"AKT","c":1,"v":1},{"g":"AKT","c":2,"v":1},{"g":"AKT","c":3,"v":0},{"g":"AKT","c":4,"v":1},{"g":"AKT","c":5,"v":1},
{"g":"FGFR3","c":1,"v":1},{"g":"FGFR3","c":2,"v":1},{"g":"FGFR3","c":3,"v":1},{"g":"FGFR3","c":4,"v":0},{"g":"FGFR3","c":5,"v":1},
{"g":"ERBB2","c":1,"v":1},{"g":"ERBB2","c":2,"v":1},{"g":"ERBB2","c":3,"v":1},{"g":"ERBB2","c":4,"v":1},{"g":"ERBB2","c":5,"v":1},
{"g":"MET","c":1,"v":1},{"g":"MET","c":2,"v":1},{"g":"MET","c":3,"v":1},{"g":"MET","c":4,"v":1},{"g":"MET","c":5,"v":1},
{"g":"PIK3CA","c":1,"v":1},{"g":"PIK3CA","c":2,"v":1},{"g":"PIK3CA","c":3,"v":1},{"g":"PIK3CA","c":4,"v":0},{"g":"PIK3CA","c":5,"v":1},
{"g":"BRAF","c":1,"v":1},{"g":"BRAF","c":2,"v":1},{"g":"BRAF","c":3,"v":1},{"g":"BRAF","c":4,"v":1},{"g":"BRAF","c":5,"v":1},
{"g":"ALK","c":1,"v":1},{"g":"ALK","c":2,"v":1},{"g":"ALK","c":3,"v":0},{"g":"ALK","c":4,"v":1},{"g":"ALK","c":5,"v":1},
{"g":"NTRK","c":1,"v":1},{"g":"NTRK","c":2,"v":1},{"g":"NTRK","c":3,"v":1},{"g":"NTRK","c":4,"v":1},{"g":"NTRK","c":5,"v":1}
],
"psgt_c":[{"c":1,"ref":"[159]"},{"c":2,"ref":"[131]"},{"c":3,"ref":"[129]"},{"c":4,"ref":"[159]"},{"c":5,"ref":"[132]"},{"c":6,"ref":"[157]"}],
"psgt_g":[{"g":"MAML2","r":"<80%"},{"g":"MYB","r":"<72%"},{"g":"MYBL1","r":"<58%"},{"g":"KDM6A","r":"<58%"},{"g":"KAT6A","r":"50%"},{"g":"KMT2D","r":"38%"},{"g":"TET2","r":"38%"},{"g":"BCOR","r":"<29%"},{"g":"PIK3CA","r":"<29%"},{"g":"TERT","r":"<29%"},{"g":"FANCA","r":"25%"},{"g":"EGFR","r":"<25%"},{"g":"TP53","r":"<15%"},{"g":"PTEN","r":"<15%"},{"g":"FGFR3","r":"<4%"}],
"psgt":[
{"g":"MAML2","c":1,"v":8},{"g":"MAML2","c":2,"v":5},{"g":"MAML2","c":3,"v":0},{"g":"MAML2","c":4,"v":1},{"g":"MAML2","c":5,"v":0},{"g":"MAML2","c":6,"v":0},
{"g":"MYB","c":1,"v":1},{"g":"MYB","c":2,"v":0},{"g":"MYB","c":3,"v":0},{"g":"MYB","c":4,"v":8},{"g":"MYB","c":5,"v":1},{"g":"MYB","c":6,"v":5},
{"g":"MYBL1","c":1,"v":1},{"g":"MYBL1","c":2,"v":0},{"g":"MYBL1","c":3,"v":0},{"g":"MYBL1","c":4,"v":0},{"g":"MYBL1","c":5,"v":1},{"g":"MYBL1","c":6,"v":6},
{"g":"KDM6A","c":1,"v":1},{"g":"KDM6A","c":2,"v":0},{"g":"KDM6A","c":3,"v":0},{"g":"KDM6A","c":4,"v":6},{"g":"KDM6A","c":5,"v":0},{"g":"KDM6A","c":6,"v":0},
{"g":"KAT6A","c":1,"v":0},{"g":"KAT6A","c":2,"v":0},{"g":"KAT6A","c":3,"v":0},{"g":"KAT6A","c":4,"v":0},{"g":"KAT6A","c":5,"v":5},{"g":"KAT6A","c":6,"v":0},
{"g":"KMT2D","c":1,"v":0},{"g":"KMT2D","c":2,"v":0},{"g":"KMT2D","c":3,"v":0},{"g":"KMT2D","c":4,"v":0},{"g":"KMT2D","c":5,"v":4},{"g":"KMT2D","c":6,"v":0},
{"g":"TET2","c":1,"v":0},{"g":"TET2","c":2,"v":0},{"g":"TET2","c":3,"v":0},{"g":"TET2","c":4,"v":0},{"g":"TET2","c":5,"v":4},{"g":"TET2","c":6,"v":0},
{"g":"BCOR","c":1,"v":1},{"g":"BCOR","c":2,"v":0},{"g":"BCOR","c":3,"v":0},{"g":"BCOR","c":4,"v":3},{"g":"BCOR","c":5,"v":3},{"g":"BCOR","c":6,"v":0},
{"g":"PIK3CA","c":1,"v":1},{"g":"PIK3CA","c":2,"v":0},{"g":"PIK3CA","c":3,"v":0},{"g":"PIK3CA","c":4,"v":3},{"g":"PIK3CA","c":5,"v":2},{"g":"PIK3CA","c":6,"v":0},
{"g":"TERT","c":1,"v":1},{"g":"TERT","c":2,"v":0},{"g":"TERT","c":3,"v":0},{"g":"TERT","c":4,"v":3},{"g":"TERT","c":5,"v":0},{"g":"TERT","c":6,"v":0},
{"g":"FANCA","c":1,"v":0},{"g":"FANCA","c":2,"v":0},{"g":"FANCA","c":3,"v":0},{"g":"FANCA","c":4,"v":0},{"g":"FANCA","c":5,"v":3},{"g":"FANCA","c":6,"v":0},
{"g":"EGFR","c":1,"v":1},{"g":"EGFR","c":2,"v":1},{"g":"EGFR","c":3,"v":3},{"g":"EGFR","c":4,"v":1},{"g":"EGFR","c":5,"v":1},{"g":"EGFR","c":6,"v":0},
{"g":"TP53","c":1,"v":1},{"g":"TP53","c":2,"v":0},{"g":"TP53","c":3,"v":0},{"g":"TP53","c":4,"v":2},{"g":"TP53","c":5,"v":1},{"g":"TP53","c":6,"v":0},
{"g":"PTEN","c":1,"v":1},{"g":"PTEN","c":2,"v":0},{"g":"PTEN","c":3,"v":0},{"g":"PTEN","c":4,"v":2},{"g":"PTEN","c":5,"v":0},{"g":"PTEN","c":6,"v":0},
{"g":"FGFR3","c":1,"v":1},{"g":"FGFR3","c":2,"v":0},{"g":"FGFR3","c":3,"v":0},{"g":"FGFR3","c":4,"v":1},{"g":"FGFR3","c":5,"v":0},{"g":"FGFR3","c":6,"v":0}
],
"pnmc_c":[{"c":1,"ref":"[9]"},{"c":2,"ref":"[74]"}],
"pnmc_g":[{"g":"NUT","r":"92~100%"},{"g":"MUC16","r":"<75%"},{"g":"PIK3CA","r":"<60%"},{"g":"TRIO","r":"50%"},{"g":"USP6","r":"50%"},{"g":"FANCA","r":"50%"},{"g":"TP53","r":"<50%"},{"g":"EPHA5","r":"<50%"},{"g":"BRCA2","r":"25%"},{"g":"ERBB2","r":"<25%"},{"g":"NTRK","r":"<25%"},{"g":"ATM","r":"<25%"},{"g":"AUST2","r":"<20%"},{"g":"CDKL5","r":"<20%"},{"g":"ITIH2","r":"<20%"},{"g":"TUBA1B","r":"<20%"},{"g":"STAG2","r":"<20%"}],
"pnmc":[
{"g":"NUT","c":1,"v":9},{"g":"NUT","c":2,"v":9},
{"g":"MUC16","c":1,"v":1},{"g":"MUC16","c":2,"v":8},
{"g":"PIK3CA","c":1,"v":6},{"g":"PIK3CA","c":2,"v":1},
{"g":"TRIO","c":1,"v":0},{"g":"TRIO","c":2,"v":5},
{"g":"USP6","c":1,"v":0},{"g":"USP6","c":2,"v":5},
{"g":"FANCA","c":1,"v":0},{"g":"FANCA","c":2,"v":5},
{"g":"TP53","c":1,"v":5},{"g":"TP53","c":2,"v":1},
{"g":"EPHA5","c":1,"v":1},{"g":"EPHA5","c":2,"v":5},
{"g":"BRCA2","c":1,"v":0},{"g":"BRCA2","c":2,"v":3},
{"g":"ERBB2","c":1,"v":1},{"g":"ERBB2","c":2,"v":3},
{"g":"NTRK","c":1,"v":1},{"g":"NTRK","c":2,"v":3},
{"g":"ATM","c":1,"v":1},{"g":"ATM","c":2,"v":3},
{"g":"AUST2","c":1,"v":2},{"g":"AUST2","c":2,"v":1},
{"g":"CDKL5","c":1,"v":2},{"g":"CDKL5","c":2,"v":1},
{"g":"ITIH2","c":1,"v":2},{"g":"ITIH2","c":2,"v":1},
{"g":"TUBA1B","c":1,"v":2},{"g":"TUBA1B","c":2,"v":1},
{"g":"STAG2","c":1,"v":2},{"g":"STAG2","c":2,"v":1}
]
},
"hconcat":[
{"vconcat":[
 {"width":303.4,"height":630,"title":{"text":"PSC","offset":1},
  "layer":[
   {"data":{"name":"psc"},"mark":{"type":"rect","stroke":"#3d3536","strokeWidth":1},
    "encoding":{"x":{"field":"c","type":"ordinal","axis":null},
     "y":{"field":"g","type":"nominal","sort":null,"axis":{"title":null,"ticks":false,"domain":false,"labelPadding":5,"labelFontSize":12,"labelColor":{"condition":{"test":"indexof(['KRAS','MET','ERBB2','EGFR','BRAF','ALK','RET','NTRK','VEGF','ROS1'],datum.value)>=0","value":"#c8102e"},"value":"#231f20"},"labelFontWeight":{"condition":{"test":"indexof(['KRAS','MET','ERBB2','EGFR','BRAF','ALK','RET','NTRK','VEGF','ROS1'],datum.value)>=0","value":"bold"},"value":"normal"}}},
     "color":{"field":"v","type":"ordinal","scale":{"domain":[0,1,2,3,4,5,6,7,8,9],"range":["#efefef","#fdf0ea","#fbdacb","#f6b69b","#f08a6d","#ec6548","#e03e2f","#c01f24","#9b1b20","#6a0e13"]},"legend":null}}},
   {"data":{"name":"psc_g"},"mark":{"type":"text","align":"left","baseline":"middle","dx":3.5,"fontSize":12.5},
    "encoding":{"x":{"value":"width"},"y":{"field":"g","type":"nominal","sort":null},"text":{"field":"r"}}},
   {"data":{"name":"psc_c"},"mark":{"type":"text","baseline":"middle","dy":9,"fontSize":10.5},
    "encoding":{"x":{"field":"c","type":"ordinal"},"y":{"value":"height"},"text":{"field":"ref"}}},
   {"data":{"values":[{"t":"[reference]"}]},"mark":{"type":"text","align":"right","baseline":"middle","dx":-3,"dy":9,"fontSize":12},
    "encoding":{"x":{"value":0},"y":{"value":"height"},"text":{"field":"t"}}}
  ]},
 {"hconcat":[
  {"width":93.3,"height":467,"title":{"text":"LCC","offset":7},
   "layer":[
    {"data":{"name":"lcc"},"mark":{"type":"rect","stroke":"#3d3536","strokeWidth":1},
     "encoding":{"x":{"field":"c","type":"ordinal","axis":null},
      "y":{"field":"g","type":"nominal","sort":null,"axis":{"title":null,"ticks":false,"domain":false,"labelPadding":4,"labelFontSize":12,"labelColor":{"condition":{"test":"indexof(['KRAS','MET','ERBB2','EGFR','BRAF','ALK','RET','NTRK','VEGF','ROS1'],datum.value)>=0","value":"#c8102e"},"value":"#231f20"},"labelFontWeight":{"condition":{"test":"indexof(['KRAS','MET','ERBB2','EGFR','BRAF','ALK','RET','NTRK','VEGF','ROS1'],datum.value)>=0","value":"bold"},"value":"normal"}}},
      "color":{"field":"v","type":"ordinal","legend":null}}},
    {"data":{"name":"lcc_g"},"mark":{"type":"text","align":"left","baseline":"middle","dx":3,"fontSize":12.5},
     "encoding":{"x":{"value":"width"},"y":{"field":"g","type":"nominal","sort":null},"text":{"field":"r"}}},
    {"data":{"name":"lcc_c"},"mark":{"type":"text","baseline":"middle","dy":8.5,"fontSize":10.5},
     "encoding":{"x":{"field":"c","type":"ordinal"},"y":{"value":"height"},"text":{"field":"ref"}}},
    {"data":{"values":[{"t":"[reference]"}]},"mark":{"type":"text","align":"right","baseline":"middle","dx":-3,"dy":8.5,"fontSize":12},
     "encoding":{"x":{"value":0},"y":{"value":"height"},"text":{"field":"t"}}}
   ]},
  {"width":117.5,"height":467,"title":{"text":"pLEC","offset":6.5},
   "layer":[
    {"data":{"name":"plec"},"mark":{"type":"rect","stroke":"#3d3536","strokeWidth":1},
     "encoding":{"x":{"field":"c","type":"ordinal","axis":null},
      "y":{"field":"g","type":"nominal","sort":null,"axis":{"title":null,"ticks":false,"domain":false,"labelPadding":3.5,"labelFontSize":12,"labelColor":{"condition":{"test":"indexof(['KRAS','MET','ERBB2','EGFR','BRAF','ALK','RET','NTRK','VEGF','ROS1'],datum.value)>=0","value":"#c8102e"},"value":"#231f20"},"labelFontWeight":{"condition":{"test":"indexof(['KRAS','MET','ERBB2','EGFR','BRAF','ALK','RET','NTRK','VEGF','ROS1'],datum.value)>=0","value":"bold"},"value":"normal"}}},
      "color":{"field":"v","type":"ordinal","legend":null}}},
    {"data":{"name":"plec_g"},"mark":{"type":"text","align":"left","baseline":"middle","dx":3,"fontSize":12.5},
     "encoding":{"x":{"value":"width"},"y":{"field":"g","type":"nominal","sort":null},"text":{"field":"r"}}},
    {"data":{"name":"plec_c"},"mark":{"type":"text","baseline":"middle","dy":8.5,"fontSize":10.5},
     "encoding":{"x":{"field":"c","type":"ordinal"},"y":{"value":"height"},"text":{"field":"ref"}}},
    {"data":{"values":[{"t":"[reference]"}]},"mark":{"type":"text","align":"right","baseline":"middle","dx":-3,"dy":8.5,"fontSize":12},
     "encoding":{"x":{"value":0},"y":{"value":"height"},"text":{"field":"t"}}}
   ]}
 ],"spacing":148.4,"bounds":"flush"}
],"spacing":59,"bounds":"flush"},
{"vconcat":[
  {"width":10,"height":17.7,"data":{"values":[]},"mark":{"type":"point","opacity":0}},
  {"width":218.4,"height":14.7,"title":{"text":"Mutation rate","fontSize":15,"fontWeight":"normal","offset":4.5},
   "data":{"name":"leg"},"mark":{"type":"rect"},
   "encoding":{"x":{"field":"lo","type":"quantitative","scale":{"domain":[0,100],"reverse":true,"nice":false,"zero":false},"axis":{"values":[0,20,40,60,80,100],"labelExpr":"datum.value == 0 ? '0' : datum.value + '%'","ticks":false,"domain":false,"grid":false,"title":null,"labelFontSize":12,"labelPadding":3,"labelFlush":false,"labelOverlap":false,"labelColor":"#231f20"}},
    "x2":{"field":"hi"},
    "color":{"field":"v","type":"ordinal","legend":null}}},
  {"width":10,"height":47.6,"data":{"values":[]},"mark":{"type":"point","opacity":0}},
  {"width":212.4,"height":474,"title":{"text":"LASC","offset":6.5},
   "layer":[
    {"data":{"name":"lasc"},"mark":{"type":"rect","stroke":"#3d3536","strokeWidth":1},
     "encoding":{"x":{"field":"c","type":"ordinal","axis":null},
      "y":{"field":"g","type":"nominal","sort":null,"axis":{"title":null,"ticks":false,"domain":false,"labelPadding":3.5,"labelFontSize":12,"labelColor":{"condition":{"test":"indexof(['KRAS','MET','ERBB2','EGFR','BRAF','ALK','RET','NTRK','VEGF','ROS1'],datum.value)>=0","value":"#c8102e"},"value":"#231f20"},"labelFontWeight":{"condition":{"test":"indexof(['KRAS','MET','ERBB2','EGFR','BRAF','ALK','RET','NTRK','VEGF','ROS1'],datum.value)>=0","value":"bold"},"value":"normal"}}},
      "color":{"field":"v","type":"ordinal","legend":null}}},
    {"data":{"name":"lasc_g"},"mark":{"type":"text","align":"left","baseline":"middle","dx":2,"fontSize":12.5},
     "encoding":{"x":{"value":"width"},"y":{"field":"g","type":"nominal","sort":null},"text":{"field":"r"}}},
    {"data":{"name":"lasc_c"},"mark":{"type":"text","baseline":"middle","dy":8,"fontSize":10.5},
     "encoding":{"x":{"field":"c","type":"ordinal"},"y":{"value":"height"},"text":{"field":"ref"}}},
    {"data":{"values":[{"t":"[reference]"}]},"mark":{"type":"text","align":"right","baseline":"middle","dx":-3,"dy":8,"fontSize":12},
     "encoding":{"x":{"value":0},"y":{"value":"height"},"text":{"field":"t"}}}
   ]},
  {"width":10,"height":58.5,"data":{"values":[]},"mark":{"type":"point","opacity":0}},
  {"width":139.2,"height":15.4,"title":{"text":"pSGT","offset":10},
   "data":{"values":[{"t":"MEC"},{"t":"ACC"}]},
   "layer":[
    {"mark":{"type":"rect","stroke":"#555555","strokeWidth":1},
     "encoding":{"x":{"field":"t","type":"nominal","sort":null,"axis":null,"scale":{"paddingInner":0.02,"paddingOuter":0}},
      "fill":{"field":"t","type":"nominal","scale":{"domain":["MEC","ACC"],"range":["#a5c8ec","#a7dcc4"]},"legend":null}}},
    {"mark":{"type":"text","fontSize":13.5,"fontWeight":"bold","baseline":"middle"},
     "encoding":{"x":{"field":"t","type":"nominal","sort":null},"text":{"field":"t"}}}
   ]},
  {"width":10,"height":1.6,"data":{"values":[]},"mark":{"type":"point","opacity":0}},
  {"width":139.2,"height":218.7,
   "layer":[
    {"data":{"name":"psgt"},"mark":{"type":"rect","stroke":"#3d3536","strokeWidth":1},
     "encoding":{"x":{"field":"c","type":"ordinal","axis":null},
      "y":{"field":"g","type":"nominal","sort":null,"axis":{"title":null,"ticks":false,"domain":false,"labelPadding":3.5,"labelFontSize":12,"labelColor":{"condition":{"test":"indexof(['KRAS','MET','ERBB2','EGFR','BRAF','ALK','RET','NTRK','VEGF','ROS1'],datum.value)>=0","value":"#c8102e"},"value":"#231f20"},"labelFontWeight":{"condition":{"test":"indexof(['KRAS','MET','ERBB2','EGFR','BRAF','ALK','RET','NTRK','VEGF','ROS1'],datum.value)>=0","value":"bold"},"value":"normal"}}},
      "color":{"field":"v","type":"ordinal","legend":null}}},
    {"data":{"name":"psgt_g"},"mark":{"type":"text","align":"left","baseline":"middle","dx":1.5,"fontSize":12.5},
     "encoding":{"x":{"value":"width"},"y":{"field":"g","type":"nominal","sort":null},"text":{"field":"r"}}},
    {"data":{"name":"psgt_c"},"mark":{"type":"text","baseline":"middle","dy":8,"fontSize":10.5},
     "encoding":{"x":{"field":"c","type":"ordinal"},"y":{"value":"height"},"text":{"field":"ref"}}},
    {"data":{"values":[{"t":"[reference]"}]},"mark":{"type":"text","align":"right","baseline":"middle","dx":-3,"dy":8,"fontSize":12},
     "encoding":{"x":{"value":0},"y":{"value":"height"},"text":{"field":"t"}}}
   ]},
  {"width":10,"height":58.5,"data":{"values":[]},"mark":{"type":"point","opacity":0}},
  {"width":48.4,"height":247.7,"title":{"text":"pNMC","offset":8},
   "layer":[
    {"data":{"name":"pnmc"},"mark":{"type":"rect","stroke":"#3d3536","strokeWidth":1},
     "encoding":{"x":{"field":"c","type":"ordinal","axis":null},
      "y":{"field":"g","type":"nominal","sort":null,"axis":{"title":null,"ticks":false,"domain":false,"labelPadding":3,"labelFontSize":12,"labelColor":{"condition":{"test":"indexof(['KRAS','MET','ERBB2','EGFR','BRAF','ALK','RET','NTRK','VEGF','ROS1'],datum.value)>=0","value":"#c8102e"},"value":"#231f20"},"labelFontWeight":{"condition":{"test":"indexof(['KRAS','MET','ERBB2','EGFR','BRAF','ALK','RET','NTRK','VEGF','ROS1'],datum.value)>=0","value":"bold"},"value":"normal"}}},
      "color":{"field":"v","type":"ordinal","legend":null}}},
    {"data":{"name":"pnmc_g"},"mark":{"type":"text","align":"left","baseline":"middle","dx":2,"fontSize":12.5},
     "encoding":{"x":{"value":"width"},"y":{"field":"g","type":"nominal","sort":null},"text":{"field":"r"}}},
    {"data":{"name":"pnmc_c"},"mark":{"type":"text","baseline":"middle","dy":7.5,"fontSize":10.5},
     "encoding":{"x":{"field":"c","type":"ordinal"},"y":{"value":"height"},"text":{"field":"ref"}}},
    {"data":{"values":[{"t":"[reference]"}]},"mark":{"type":"text","align":"right","baseline":"middle","dx":-3,"dy":7.5,"fontSize":12},
     "encoding":{"x":{"value":0},"y":{"value":"height"},"text":{"field":"t"}}}
   ]}
],"spacing":0,"bounds":"flush"}
],
"spacing":465,
"bounds":"flush"
}
